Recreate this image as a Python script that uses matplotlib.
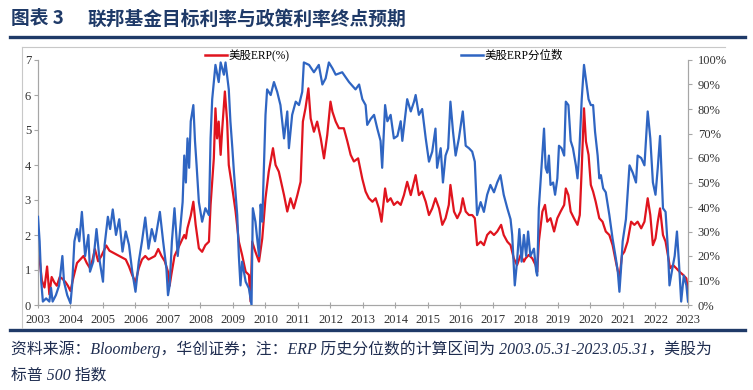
import matplotlib
matplotlib.use("Agg")
import matplotlib.pyplot as plt
from matplotlib.lines import Line2D

# ---------------- data ----------------
red_years = [2003.0, 2003.05, 2003.12, 2003.2, 2003.28, 2003.35, 2003.42, 2003.5, 2003.58, 2003.67,
             2003.75, 2003.85, 2003.92, 2004.0, 2004.08, 2004.2, 2004.3, 2004.4, 2004.5, 2004.6,
             2004.68, 2004.75, 2004.85, 2004.95, 2005.1, 2005.2, 2005.3, 2005.4, 2005.5, 2005.6,
             2005.7, 2005.8, 2005.9, 2006.0, 2006.1, 2006.2, 2006.3, 2006.4, 2006.5, 2006.6,
             2006.7, 2006.8, 2006.9, 2007.0, 2007.05, 2007.1, 2007.2, 2007.3, 2007.4, 2007.5,
             2007.55, 2007.6, 2007.7, 2007.78, 2007.85, 2007.95, 2008.05, 2008.15, 2008.26, 2008.31,
             2008.41, 2008.46, 2008.51, 2008.56, 2008.62, 2008.67, 2008.75, 2008.82, 2008.87, 2008.98,
             2009.08, 2009.18, 2009.28, 2009.39, 2009.49, 2009.54, 2009.59, 2009.69, 2009.8, 2009.9,
             2010.0, 2010.1, 2010.23, 2010.31, 2010.41, 2010.57, 2010.67, 2010.77, 2010.87, 2010.98,
             2011.08, 2011.15, 2011.23, 2011.32, 2011.39, 2011.49, 2011.59, 2011.7, 2011.8, 2011.9,
             2012.0, 2012.06, 2012.16, 2012.26, 2012.41, 2012.52, 2012.62, 2012.72, 2012.85, 2012.98,
             2013.08, 2013.18, 2013.29, 2013.39, 2013.49, 2013.57, 2013.68, 2013.75, 2013.85, 2013.95,
             2014.06, 2014.16, 2014.26, 2014.36, 2014.47, 2014.62, 2014.72, 2014.82, 2014.93, 2015.03,
             2015.13, 2015.23, 2015.34, 2015.44, 2015.54, 2015.64, 2015.69, 2015.8, 2015.9, 2016.0,
             2016.07, 2016.16, 2016.26, 2016.36, 2016.44, 2016.51, 2016.62, 2016.72, 2016.82, 2016.92,
             2017.03, 2017.13, 2017.25, 2017.33, 2017.44, 2017.54, 2017.64, 2017.74, 2017.85, 2017.95,
             2018.0, 2018.1, 2018.21, 2018.31, 2018.36, 2018.41, 2018.52, 2018.6, 2018.67, 2018.77,
             2018.88, 2018.98, 2019.08, 2019.19, 2019.24, 2019.32, 2019.39, 2019.49, 2019.6, 2019.67,
             2019.73, 2019.8, 2019.86, 2019.94, 2020.01, 2020.08, 2020.16, 2020.27, 2020.37, 2020.47,
             2020.58, 2020.68, 2020.78, 2020.89, 2020.97, 2021.04, 2021.14, 2021.25, 2021.35, 2021.45,
             2021.56, 2021.66, 2021.76, 2021.84, 2021.92, 2022.0, 2022.07, 2022.14, 2022.23, 2022.31,
             2022.38, 2022.45, 2022.54, 2022.64, 2022.74, 2022.85, 2022.95, 2023.0]
red_erp = [1.6, 1.3, 0.7, 0.5, 1.1, 0.3, 0.8, 0.65, 0.55, 0.8,
           0.75, 0.65, 0.55, 0.4, 0.75, 1.2, 1.3, 1.4, 1.2, 1.05,
           1.3, 1.6, 1.25, 1.4, 1.7, 1.55, 1.5, 1.45, 1.4, 1.35,
           1.3, 1.1, 0.85, 0.65, 1.05, 1.3, 1.4, 1.3, 1.35, 1.4,
           1.6, 1.4, 1.25, 0.95, 0.55, 0.85, 1.4, 1.6, 1.8, 2.0,
           1.9, 2.2, 2.55, 2.95, 2.3, 1.62, 1.52, 1.71, 1.81, 2.86,
           4.19, 5.62, 4.76, 5.24, 4.29, 5.05, 6.1, 5.24, 4.0, 3.33,
           2.67, 1.81, 1.43, 0.95, 0.86, 0.1, 1.81, 1.52, 1.24, 1.9,
           3.05, 3.81, 4.48, 4.0, 3.81, 3.14, 2.67, 3.05, 2.76, 3.14,
           3.52, 5.24, 5.62, 6.19, 5.33, 4.95, 5.24, 4.76, 4.19, 4.86,
           5.81, 5.52, 5.24, 5.05, 5.05, 4.67, 4.29, 4.1, 4.19, 3.6,
           3.24, 3.05, 2.95, 3.05, 2.76, 2.38, 3.33, 2.95, 3.05, 2.86,
           2.95, 2.86, 3.14, 3.52, 3.14, 3.71, 3.14, 3.24, 2.95, 2.57,
           2.76, 3.05, 2.76, 2.29, 2.48, 2.86, 3.43, 2.67, 2.48, 2.67,
           3.05, 2.67, 2.57, 2.57, 2.48, 1.71, 1.81, 1.71, 2.0, 2.1,
           2.0, 2.1, 2.29, 2.0, 1.81, 1.71, 1.33, 1.14, 1.43, 1.24,
           1.33, 1.43, 1.33, 1.14, 0.95, 1.81, 2.67, 2.86, 2.38, 2.48,
           2.1, 2.48, 2.67, 2.86, 3.33, 3.14, 2.67, 2.48, 2.29, 2.57,
           3.9, 5.62, 4.67, 4.29, 3.43, 3.24, 2.95, 2.48, 2.38, 2.1,
           2.0, 1.71, 1.24, 0.76, 1.43, 1.52, 1.81, 2.38, 2.29, 2.38,
           2.19, 2.38, 3.05, 2.57, 1.71, 1.9, 2.38, 2.76, 2.0, 1.81,
           1.43, 1.05, 1.14, 1.05, 0.95, 0.86, 0.76, 0.38]

blue_years = [2003.0, 2003.05, 2003.1, 2003.15, 2003.25, 2003.35, 2003.4, 2003.45, 2003.55, 2003.65,
              2003.75, 2003.8, 2003.9, 2004.0, 2004.05, 2004.12, 2004.2, 2004.27, 2004.35, 2004.45,
              2004.55, 2004.6, 2004.7, 2004.8, 2004.9, 2005.0, 2005.05, 2005.15, 2005.22, 2005.3,
              2005.4, 2005.5, 2005.6, 2005.7, 2005.8, 2005.9, 2006.0, 2006.1, 2006.2, 2006.3,
              2006.4, 2006.5, 2006.6, 2006.75, 2006.85, 2006.95, 2007.0, 2007.05, 2007.12, 2007.2,
              2007.3, 2007.45, 2007.5, 2007.55, 2007.6, 2007.65, 2007.7, 2007.78, 2007.83, 2007.88,
              2007.95, 2008.05, 2008.15, 2008.26, 2008.31, 2008.36, 2008.46, 2008.56, 2008.62, 2008.72,
              2008.77, 2008.87, 2008.92, 2008.98, 2009.03, 2009.13, 2009.18, 2009.23, 2009.28, 2009.39,
              2009.49, 2009.57, 2009.61, 2009.69, 2009.8, 2009.85, 2009.9, 2010.0, 2010.05, 2010.16,
              2010.26, 2010.36, 2010.46, 2010.57, 2010.67, 2010.72, 2010.82, 2010.93, 2011.03, 2011.13,
              2011.18, 2011.34, 2011.49, 2011.64, 2011.75, 2011.85, 2011.95, 2012.06, 2012.16, 2012.36,
              2012.57, 2012.77, 2012.88, 2012.98, 2013.08, 2013.13, 2013.24, 2013.34, 2013.44, 2013.54,
              2013.59, 2013.68, 2013.75, 2013.85, 2013.95, 2014.06, 2014.16, 2014.21, 2014.36, 2014.47,
              2014.57, 2014.62, 2014.72, 2014.82, 2014.93, 2015.03, 2015.13, 2015.23, 2015.28, 2015.39,
              2015.46, 2015.54, 2015.62, 2015.69, 2015.77, 2015.85, 2015.95, 2016.07, 2016.16, 2016.26,
              2016.36, 2016.44, 2016.51, 2016.62, 2016.72, 2016.82, 2016.92, 2017.03, 2017.13, 2017.23,
              2017.33, 2017.44, 2017.54, 2017.59, 2017.67, 2017.74, 2017.81, 2017.88, 2017.95, 2018.02,
              2018.08, 2018.15, 2018.26, 2018.33, 2018.36, 2018.41, 2018.49, 2018.57, 2018.62, 2018.67,
              2018.72, 2018.77, 2018.85, 2018.91, 2018.98, 2019.03, 2019.11, 2019.19, 2019.24, 2019.32,
              2019.39, 2019.46, 2019.55, 2019.6, 2019.65, 2019.73, 2019.8, 2019.88, 2019.94, 2020.01,
              2020.08, 2020.14, 2020.22, 2020.27, 2020.32, 2020.39, 2020.47, 2020.58, 2020.68, 2020.78,
              2020.84, 2020.89, 2020.94, 2020.99, 2021.09, 2021.2, 2021.3, 2021.4, 2021.45, 2021.56,
              2021.66, 2021.76, 2021.84, 2021.92, 2022.0, 2022.07, 2022.14, 2022.23, 2022.31, 2022.38,
              2022.43, 2022.52, 2022.59, 2022.66, 2022.72, 2022.79, 2022.87, 2022.95, 2023.0]
blue_pct = [36, 26, 9.5, 1.4, 2.7, 1.4, 7, 1.4, 4, 8,
            20, 9.5, 4, 0.7, 8, 26, 31, 26, 38, 20,
            28.6, 13.6, 17.7, 31, 17.7, 9.5, 24.5, 36, 31, 39,
            28.6, 35, 21.8, 30, 24.5, 13.6, 5.4, 17.7, 26, 35.7,
            23, 31, 26, 38, 26, 15, 4, 8, 26, 39.5,
            20, 42, 61, 50, 68, 56, 75, 81.6, 67, 57,
            42, 34, 39.5, 36.7, 68, 84, 98, 91, 99, 94,
            99, 88, 75, 64, 54, 36.7, 20, 8, 17.7, 9.5,
            6.8, 0, 39.5, 34, 20, 41, 34, 77.6, 88, 85.7,
            91, 87, 81.6, 68, 79, 64, 77.6, 83, 81.6, 87,
            99, 98, 95, 98, 90, 92.5, 99, 96.6, 94, 95,
            91, 88, 90, 84, 81.6, 73.5, 76, 77.6, 72, 67,
            56, 81.6, 75, 77.6, 68, 69, 75, 67, 84, 79,
            83, 85.7, 77.6, 80, 68, 58.5, 62.6, 72, 56, 64,
            50, 61, 64, 83, 70.7, 61, 68, 79, 65, 64,
            62.6, 58.5, 36.7, 42, 38, 45, 49, 46, 50, 53,
            45, 39.5, 35, 28.6, 8, 17.7, 31, 17.7, 28.6, 20,
            30, 20, 23, 13.6, 12, 39.5, 56, 72, 56, 54,
            61, 49, 50, 45, 51.7, 65, 64, 61, 83, 81.6,
            67, 64, 57, 51.7, 61, 84, 98, 90, 84, 81.6,
            81.6, 70.7, 61, 51.7, 53, 47.6, 46, 36.7, 27, 19,
            13.6, 5.4, 15, 26, 35, 57, 54, 50, 61, 60,
            57, 79, 68, 50, 45, 56, 69, 39.5, 38, 23,
            8, 15, 20, 30, 17.7, 1.4, 12, 8, 1.4]

x_ticks = list(range(2003, 2024))
left_ticks = [0, 1, 2, 3, 4, 5, 6, 7]
right_ticks = [0, 10, 20, 30, 40, 50, 60, 70, 80, 90, 100]

title_head = "图表 3"
title_body = "联邦基金目标利率与政策利率终点预期"
note_line1 = "资料来源：Bloomberg，华创证券；注：ERP 历史分位数的计算区间为 2003.05.31-2023.05.31，美股为"
note_line2 = "标普 500 指数"
red_label = "美股ERP(%)"
blue_label = "美股ERP分位数"

# ---------------- styling ----------------
RED = "#E0141E"
BLUE = "#2F65C2"
NAVY = "#1F3A68"
GRAY = "#A6A6A6"
serif = ["Liberation Serif", "Noto Sans CJK SC", "DejaVu Sans"]
plt.rcParams["font.family"] = serif

W, H = 753, 390
fig = plt.figure(figsize=(W / 100, H / 100), dpi=100)

def fx(px):
    return px / W

def fy(py):
    return 1 - py / H

# title
tfam = ["Noto Sans CJK SC", "Liberation Serif"]
fig.text(fx(11), fy(19), title_head, fontsize=13.5, fontweight="bold", color=NAVY,
         family=tfam, va="center", ha="left")
fig.text(fx(87), fy(19), title_body, fontsize=13.5, fontweight="bold", color=NAVY,
         family=tfam, va="center", ha="left")
# header / footer rules
fig.add_artist(Line2D([fx(10), fx(745)], [fy(37), fy(37)], color=NAVY, lw=2.4))
fig.add_artist(Line2D([fx(10), fx(745)], [fy(330), fy(330)], color=NAVY, lw=2.4))
# light chart border
fig.add_artist(Line2D([fx(22), fx(725)], [fy(47), fy(47)], color="#C8C8C8", lw=0.8))
fig.add_artist(Line2D([fx(22), fx(22)], [fy(47), fy(328)], color="#C8C8C8", lw=0.8))

# footnote
fig.text(fx(11), fy(349), note_line1, fontsize=11.4, style="italic", color="#1F2D50",
         va="center", ha="left", family=serif)
fig.text(fx(11), fy(376), note_line2, fontsize=11.4, style="italic", color="#1F2D50",
         va="center", ha="left", family=serif)

# axes
ax = fig.add_axes([fx(38), fy(305), fx(688) - fx(38), fy(60) - fy(305)])
ax2 = ax.twinx()

ax.plot(red_years, red_erp, color=RED, lw=1.6, zorder=2)
ax2.plot(blue_years, blue_pct, color=BLUE, lw=1.6, zorder=3)

ax.set_xlim(2003, 2023)
ax.set_ylim(0, 7)
ax2.set_ylim(0, 100)
ax.set_xticks(x_ticks)
ax.set_xticklabels([str(t) for t in x_ticks])
ax.set_yticks(left_ticks)
ax.set_yticklabels([str(t) for t in left_ticks])
ax2.set_yticks(right_ticks)
ax2.set_yticklabels([f"{t}%" for t in right_ticks])

for a in (ax, ax2):
    for s in a.spines.values():
        s.set_color(GRAY)
        s.set_linewidth(0.8)
    a.spines["top"].set_visible(False)
    a.patch.set_visible(False)

ax.tick_params(axis="x", direction="inout", length=5, width=0.8, color=GRAY,
               labelsize=9, pad=4, labelcolor="#333333")
ax.tick_params(axis="y", direction="out", length=3, width=0.8, color=GRAY,
               labelsize=9, pad=2, labelcolor="#333333")
ax2.tick_params(axis="y", direction="out", length=3, width=0.8, color=GRAY,
                labelsize=9, pad=4, labelcolor="#333333")

# legend (manual placement like the reference)
h1 = Line2D([], [], color=RED, lw=1.8)
h2 = Line2D([], [], color=BLUE, lw=1.8)
fig.legend([h1], [red_label], loc="center left", bbox_to_anchor=(fx(199), fy(56)),
           frameon=False, fontsize=8.3, handlelength=1.9, handletextpad=0.15, borderpad=0)
fig.legend([h2], [blue_label], loc="center left", bbox_to_anchor=(fx(455), fy(56)),
           frameon=False, fontsize=8.3, handlelength=1.9, handletextpad=0.15, borderpad=0)

fig.savefig("out.png", dpi=100)
